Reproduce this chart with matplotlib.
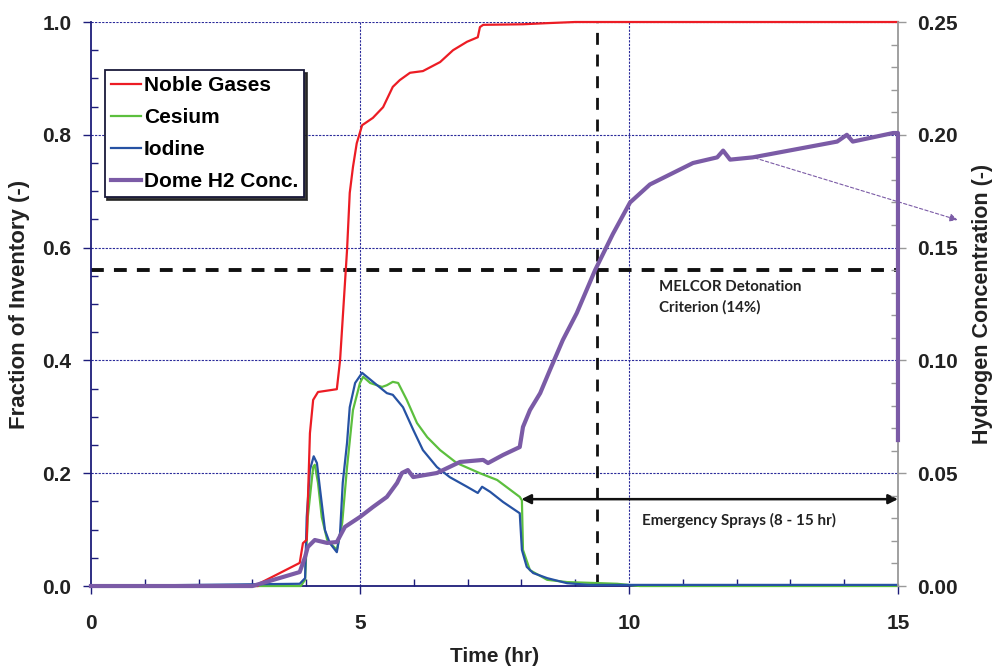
import matplotlib
matplotlib.use("Agg")
import matplotlib.pyplot as plt
from matplotlib.ticker import MultipleLocator, FormatStrFormatter

# Release fractions (left axis) and dome hydrogen concentration (right axis)
noble_t = [0, 3.10, 3.14, 3.88, 3.94, 4.01, 4.07, 4.13, 4.22, 4.57, 4.63, 4.76, 4.81,
           4.87, 4.94, 5.04, 5.24, 5.43, 5.61, 5.74, 5.93, 6.17, 6.49, 6.73, 6.99,
           7.19, 7.23, 7.29, 8.03, 8.48, 9.0, 15.0]
noble_f = [0, 0, 0.005, 0.041, 0.076, 0.082, 0.271, 0.330, 0.344, 0.349, 0.400, 0.596,
           0.697, 0.743, 0.785, 0.817, 0.830, 0.849, 0.885, 0.897, 0.910, 0.913, 0.929,
           0.950, 0.965, 0.973, 0.991, 0.995, 0.996, 0.998, 1.0, 1.0]

cesium_t = [0, 3.90, 3.98, 4.03, 4.13, 4.16, 4.22, 4.29, 4.39, 4.57, 4.67, 4.76, 4.87,
            5.00, 5.06, 5.19, 5.41, 5.50, 5.61, 5.71, 5.87, 6.06, 6.25, 6.49, 6.80,
            7.23, 7.55, 7.97, 8.01, 8.03, 8.16, 8.48, 8.85, 9.78, 10.2, 15.0]
cesium_f = [0, 0, 0.011, 0.122, 0.211, 0.215, 0.183, 0.122, 0.082, 0.064, 0.112, 0.211,
            0.312, 0.360, 0.371, 0.360, 0.353, 0.356, 0.362, 0.360, 0.330, 0.289, 0.264,
            0.241, 0.218, 0.200, 0.188, 0.158, 0.152, 0.064, 0.028, 0.011, 0.007, 0.004,
            0.0, 0.0]

iodine_t = [0, 3.88, 3.98, 4.01, 4.07, 4.14, 4.20, 4.26, 4.35, 4.44, 4.57, 4.63, 4.68,
            4.76, 4.81, 4.91, 5.04, 5.09, 5.32, 5.50, 5.61, 5.80, 5.99, 6.17, 6.43,
            6.67, 6.99, 7.19, 7.27, 7.42, 7.66, 7.97, 8.01, 8.10, 8.22, 8.48, 8.85,
            9.27, 15.0]
iodine_f = [0, 0.004, 0.014, 0.122, 0.206, 0.230, 0.218, 0.170, 0.099, 0.076, 0.060,
            0.094, 0.183, 0.254, 0.317, 0.360, 0.378, 0.374, 0.356, 0.342, 0.339, 0.317,
            0.277, 0.241, 0.211, 0.193, 0.176, 0.165, 0.176, 0.167, 0.149, 0.129, 0.064,
            0.034, 0.023, 0.014, 0.005, 0.002, 0.002]

h2_t = [0, 3.0, 3.57, 3.88, 3.98, 4.03, 4.16, 4.39, 4.57, 4.72, 5.00, 5.24, 5.50, 5.69,
        5.78, 5.89, 5.99, 6.43, 6.86, 7.29, 7.38, 7.66, 7.97, 8.03, 8.16, 8.35, 8.53,
        8.77, 9.03, 9.37, 9.70, 10.02, 10.39, 11.19, 11.64, 11.75, 11.88, 12.30, 13.87,
        14.05, 14.16, 14.91, 15.0, 15.0]
h2_c = [0, 0, 0.0040, 0.0062, 0.0129, 0.0173, 0.0204, 0.0191, 0.0195, 0.0262, 0.0306,
        0.0350, 0.0395, 0.0457, 0.0501, 0.0514, 0.0483, 0.0501, 0.0550, 0.0559, 0.0545,
        0.0581, 0.0616, 0.0705, 0.0780, 0.0855, 0.0957, 0.109, 0.121, 0.140, 0.156,
        0.170, 0.178, 0.1875, 0.190, 0.193, 0.189, 0.190, 0.197, 0.200, 0.197, 0.2008,
        0.2008, 0.0647]

detonation_frac = 0.56
crit_time = 9.4
spray_start, spray_end = 8, 15

navy = "#1c1c7a"
grid_col = "#2a2a9a"
narrow = ["Liberation Sans Narrow", "Liberation Sans", "DejaVu Sans"]
plt.rcParams["font.family"] = ["Liberation Sans", "DejaVu Sans"]

fig = plt.figure(figsize=(9.92, 6.67), dpi=100)
ax = fig.add_axes([0.0917, 0.1214, 0.8135, 0.8456])
ax2 = ax.twinx()

ax.plot(cesium_t, cesium_f, color="#5cbf3e", lw=1.6, label="Cesium", clip_on=False, zorder=3)
ax.plot(iodine_t, iodine_f, color="#2652a3", lw=1.6, label="Iodine", clip_on=False, zorder=4)
ax.plot(noble_t, noble_f, color="#ec1c24", lw=1.6, label="Noble Gases", clip_on=False, zorder=5)
ax2.plot(h2_t, h2_c, color="#7b5ba6", lw=3, label="Dome H2 Conc.", clip_on=False, zorder=5)

ax.set_xlim(0, 15)
ax.set_ylim(0, 1.0)
ax2.set_ylim(0, 0.25)

# dashed reference lines
ax.axhline(detonation_frac, color="#111111", lw=2.8, dashes=(3.3, 2.6), zorder=2)
ax.axvline(crit_time, color="#111111", lw=2, dashes=(4.3, 3.5), zorder=2)

# grid
for y in [0.2, 0.4, 0.6, 0.8, 1.0]:
    ax.axhline(y, color=grid_col, lw=0.8, dashes=(2, 1.2), zorder=1)
for x in [5, 10]:
    ax.axvline(x, color=grid_col, lw=0.8, dashes=(2, 1.2), zorder=1)

# annotations
ax.annotate("", xy=(spray_start, 0.154), xytext=(spray_end, 0.154),
            arrowprops=dict(arrowstyle="<|-|>", color="#111111", lw=1.8,
                            mutation_scale=14, shrinkA=0, shrinkB=0), zorder=6)
ax.text(12.05, 0.117, "Emergency Sprays (8 - 15 hr)", ha="center", va="center",
        fontsize=11, fontweight="bold", family=["Lato", "DejaVu Sans"], color="#222222")
ax.text(10.55, 0.512, "MELCOR Detonation\nCriterion (14%)", ha="left", va="center",
        fontsize=10.8, fontweight="bold", family=["Lato", "DejaVu Sans"], color="#222222",
        linespacing=1.55)
ax.annotate("", xy=(16.11, 0.649), xytext=(12.34, 0.759), annotation_clip=False,
            arrowprops=dict(arrowstyle="-|>", color="#7b5ba6", lw=0.8, ls=(0, (3, 2)),
                            mutation_scale=12, shrinkA=0, shrinkB=0))

# ticks
ax.xaxis.set_major_locator(MultipleLocator(5))
ax.xaxis.set_minor_locator(MultipleLocator(1))
ax.yaxis.set_major_locator(MultipleLocator(0.2))
ax.yaxis.set_minor_locator(MultipleLocator(0.05))
ax.yaxis.set_major_formatter(FormatStrFormatter("%.1f"))
ax2.yaxis.set_major_locator(MultipleLocator(0.05))
ax2.yaxis.set_minor_locator(MultipleLocator(0.01))
ax2.yaxis.set_major_formatter(FormatStrFormatter("%.2f"))

ax.tick_params(which="major", direction="out", length=6, width=1, color=navy, pad=14)
ax.tick_params(axis="y", which="major", pad=8)
ax.tick_params(which="minor", direction="in", length=5, width=1, color=navy)
ax2.tick_params(which="major", direction="out", length=6, width=1, color="#999999", pad=8)
ax2.tick_params(which="minor", direction="in", length=5, width=1, color="#999999")

for lab in ax.get_xticklabels() + ax.get_yticklabels() + ax2.get_yticklabels():
    lab.set_family(narrow)
    lab.set_fontweight("bold")
    lab.set_fontsize(15)
    lab.set_color("#222222")

for s in ["left", "bottom"]:
    ax.spines[s].set_color(navy)
    ax.spines[s].set_linewidth(1.3)
ax.spines["top"].set_visible(False)
ax2.spines["top"].set_visible(False)
ax2.spines["left"].set_visible(False)
ax2.spines["bottom"].set_visible(False)
ax.spines["right"].set_visible(False)
ax2.spines["right"].set_color("#999999")
ax2.spines["right"].set_linewidth(1.3)

ax.set_xlabel("Time (hr)", fontsize=15, fontweight="bold", family=narrow,
              color="#222222", labelpad=10)
ax.set_ylabel("Fraction of Inventory (-)", fontsize=16, fontweight="bold",
              color="#222222", labelpad=9)
ax2.set_ylabel("Hydrogen Concentration (-)", fontsize=15.5, fontweight="bold",
               color="#222222", labelpad=10)

h1, l1 = ax.get_legend_handles_labels()
h2, l2 = ax2.get_legend_handles_labels()
order = [2, 0, 1]
handles = [h1[i] for i in order] + h2
labels = [l1[i] for i in order] + l2
leg = ax2.legend(handles, labels, loc="upper left", bbox_to_anchor=(0.017, 0.915),
                 borderaxespad=0, fancybox=False, shadow=dict(color="#222222", alpha=0.9),
                 framealpha=1, edgecolor="#1a1a3a",
                 prop=dict(size=15, weight="bold"), handlelength=1.45, handletextpad=0.12,
                 labelspacing=0.62, borderpad=0.3)
leg.get_frame().set_linewidth(1.3)
leg.set_zorder(10)

fig.savefig("out.png", dpi=100)
